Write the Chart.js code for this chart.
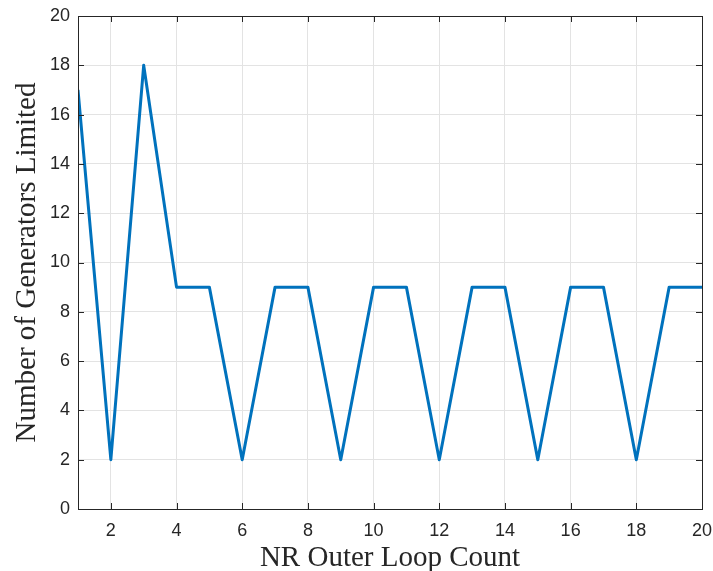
<!DOCTYPE html>
<html>
<head>
<meta charset="utf-8">
<script src="https://cdn.jsdelivr.net/npm/chart.js@4"></script>
<style>
  html, body { margin: 0; padding: 0; background: #fff; }
  #wrap { width: 713px; height: 571px; }
</style>
</head>
<body>
<div id="wrap"><canvas id="nrChart" width="713" height="571"></canvas></div>
<script>
// data
const loopCount = [1, 2, 3, 4, 5, 6, 7, 8, 9, 10, 11, 12, 13, 14, 15, 16, 17, 18, 19, 20];
const gensLimited = [17, 2, 18, 9, 9, 2, 9, 9, 2, 9, 9, 2, 9, 9, 2, 9, 9, 2, 9, 9];
const xTicks = [2, 4, 6, 8, 10, 12, 14, 16, 18, 20];
const yTicks = [0, 2, 4, 6, 8, 10, 12, 14, 16, 18, 20];

const axisColor = '#262626';
const gridColor = '#e3e3e3';

// box around the plot with inward tick marks (MATLAB style)
const boxTicks = {
  id: 'boxTicks',
  afterDraw(chart) {
    const { ctx, chartArea: a, scales: { x, y } } = chart;
    const len = 6;
    ctx.save();
    ctx.strokeStyle = axisColor;
    ctx.lineWidth = 1;
    ctx.beginPath();
    xTicks.forEach(v => {
      const px = Math.round(x.getPixelForValue(v)) + 0.5;
      ctx.moveTo(px, a.bottom); ctx.lineTo(px, a.bottom - len);
      ctx.moveTo(px, a.top); ctx.lineTo(px, a.top + len);
    });
    yTicks.forEach(v => {
      const py = Math.round(y.getPixelForValue(v)) + 0.5;
      ctx.moveTo(a.left, py); ctx.lineTo(a.left + len, py);
      ctx.moveTo(a.right, py); ctx.lineTo(a.right - len, py);
    });
    ctx.stroke();
    ctx.strokeRect(Math.round(a.left) + 0.5, Math.round(a.top) + 0.5,
      Math.round(a.right - a.left), Math.round(a.bottom - a.top));
    ctx.restore();
  }
};

// fixed axis sizes, no automatic padding for overhanging labels
const fixSize = (prop, size) => s => {
  s[prop] = size;
  s.paddingLeft = 0; s.paddingRight = 0; s.paddingTop = 0; s.paddingBottom = 0;
};

const ctx = document.getElementById('nrChart').getContext('2d');
const nrChart = new Chart(ctx, {
  type: 'line',
  data: {
    datasets: [{
      data: loopCount.map((v, i) => ({ x: v, y: gensLimited[i] })),
      borderColor: '#0072BD',
      borderWidth: 3,
      borderJoinStyle: 'round',
      pointRadius: 0,
      tension: 0,
      fill: false,
    }]
  },
  options: {
    responsive: false,
    animation: false,
    layout: { padding: { top: 16, right: 11, bottom: 0, left: 0 } },
    plugins: { legend: { display: false }, tooltip: { enabled: false } },
    scales: {
      x: {
        type: 'linear',
        min: 1,
        max: 20,
        afterBuildTicks: s => { s.ticks = xTicks.map(v => ({ value: v })); },
        afterFit: fixSize('height', 62),
        border: { display: false },
        grid: { color: gridColor, drawTicks: false },
        ticks: {
          color: axisColor,
          padding: 11,
          font: { family: 'Liberation Sans', size: 18 },
        },
        title: {
          display: true,
          text: 'NR Outer Loop Count',
          color: axisColor,
          padding: { top: 0, bottom: -2 },
          font: { family: 'Liberation Serif', size: 29, lineHeight: 1 },
        }
      },
      y: {
        min: 0,
        max: 20,
        afterBuildTicks: s => { s.ticks = yTicks.map(v => ({ value: v })); },
        afterFit: fixSize('width', 78),
        border: { display: false },
        grid: { color: gridColor, drawTicks: false },
        ticks: {
          color: axisColor,
          padding: 8,
          font: { family: 'Liberation Sans', size: 18 },
        },
        title: {
          display: true,
          text: 'Number of Generators Limited',
          color: axisColor,
          padding: { top: 13, bottom: 0 },
          font: { family: 'Liberation Serif', size: 29, lineHeight: 1 },
        }
      }
    }
  },
  plugins: [boxTicks]
});
</script>
</body>
</html>
